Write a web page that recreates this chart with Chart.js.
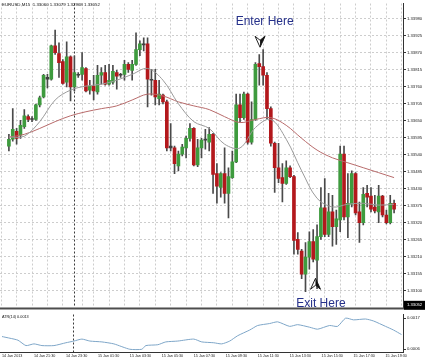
<!DOCTYPE html>
<html>
<head>
<meta charset="utf-8">
<script src="https://cdn.jsdelivr.net/npm/chart.js@4.4.0/dist/chart.umd.min.js"></script>
<style>
  html, body { margin: 0; padding: 0; background: #fff; }
  #wrap { position: relative; width: 425px; height: 361px; overflow: hidden; }
  #main { position: absolute; left: 0; top: 0; }
  #atr  { position: absolute; left: 0; top: 311px; }
</style>
</head>
<body>
<div id="wrap">
  <canvas id="main" width="425" height="311"></canvas>
  <canvas id="atr" width="425" height="50"></canvas>
</div>
<script>
/* ---------- data (EURUSD M15, 14 Jan 19:30 -> 15 Jan 20:45) ---------- */
const opens = [
  1.33567, 1.33589, 1.33615, 1.33602, 1.33630, 1.33662, 1.33653, 1.33653, 1.33700, 1.33726,
  1.33789, 1.33783, 1.33891, 1.33866, 1.33840, 1.33774, 1.33856, 1.33758, 1.33799, 1.33799,
  1.33818, 1.33748, 1.33761, 1.33742, 1.33796, 1.33805, 1.33767, 1.33774, 1.33805, 1.33799,
  1.33799, 1.33831, 1.33812, 1.33831, 1.33879, 1.33898, 1.33898, 1.33783, 1.33780, 1.33720,
  1.33732, 1.33710, 1.33567, 1.33561, 1.33503, 1.33541, 1.33561, 1.33592, 1.33624, 1.33506,
  1.33561, 1.33586, 1.33580, 1.33605, 1.33478, 1.33433, 1.33478, 1.33414, 1.33465, 1.33516,
  1.33700, 1.33659, 1.33735, 1.33580, 1.33653, 1.33834, 1.33824, 1.33796, 1.33688, 1.33576,
  1.33497, 1.33465, 1.33446, 1.33497, 1.33468, 1.33265, 1.33227, 1.33153, 1.33208, 1.33258,
  1.33198, 1.33274, 1.33367, 1.33281, 1.33354, 1.33306, 1.33328, 1.33541, 1.33338, 1.33379,
  1.33478, 1.33354, 1.33319, 1.33414, 1.33405, 1.33370, 1.33354, 1.33405, 1.33344, 1.33319,
  1.33382
];
const highs = [
  1.33605, 1.33688, 1.33624, 1.33650, 1.33685, 1.33668, 1.33662, 1.33703, 1.33729, 1.33799,
  1.33799, 1.33894, 1.33942, 1.33901, 1.33847, 1.33904, 1.33859, 1.33859, 1.33805, 1.33869,
  1.33821, 1.33780, 1.33796, 1.33828, 1.33821, 1.33828, 1.33831, 1.33828, 1.33812, 1.33802,
  1.33844, 1.33837, 1.33844, 1.33933, 1.33907, 1.33917, 1.33917, 1.33815, 1.33815, 1.33780,
  1.33735, 1.33716, 1.33640, 1.33567, 1.33551, 1.33573, 1.33599, 1.33640, 1.33627, 1.33589,
  1.33592, 1.33621, 1.33627, 1.33608, 1.33510, 1.33481, 1.33561, 1.33497, 1.33551, 1.33735,
  1.33735, 1.33742, 1.33738, 1.33710, 1.33837, 1.33863, 1.33879, 1.33805, 1.33694, 1.33580,
  1.33576, 1.33510, 1.33519, 1.33503, 1.33472, 1.33287, 1.33233, 1.33255, 1.33290, 1.33297,
  1.33312, 1.33433, 1.33462, 1.33414, 1.33408, 1.33360, 1.33567, 1.33567, 1.33478, 1.33487,
  1.33481, 1.33386, 1.33433, 1.33440, 1.33433, 1.33408, 1.33440, 1.33408, 1.33360, 1.33408,
  1.33392
];
const lows = [
  1.33551, 1.33583, 1.33573, 1.33592, 1.33624, 1.33646, 1.33646, 1.33650, 1.33694, 1.33723,
  1.33755, 1.33780, 1.33863, 1.33789, 1.33767, 1.33758, 1.33713, 1.33745, 1.33789, 1.33780,
  1.33742, 1.33735, 1.33716, 1.33735, 1.33767, 1.33764, 1.33764, 1.33767, 1.33751, 1.33789,
  1.33780, 1.33805, 1.33780, 1.33828, 1.33859, 1.33875, 1.33694, 1.33732, 1.33700, 1.33700,
  1.33703, 1.33551, 1.33551, 1.33478, 1.33487, 1.33535, 1.33529, 1.33583, 1.33503, 1.33500,
  1.33529, 1.33557, 1.33551, 1.33414, 1.33382, 1.33402, 1.33382, 1.33335, 1.33462, 1.33513,
  1.33646, 1.33653, 1.33573, 1.33573, 1.33650, 1.33764, 1.33764, 1.33656, 1.33567, 1.33417,
  1.33449, 1.33386, 1.33443, 1.33465, 1.33217, 1.33217, 1.33138, 1.33096, 1.33169, 1.33192,
  1.33106, 1.33265, 1.33274, 1.33274, 1.33243, 1.33249, 1.33290, 1.33328, 1.33271, 1.33370,
  1.33344, 1.33255, 1.33312, 1.33370, 1.33354, 1.33351, 1.33319, 1.33338, 1.33315, 1.33315,
  1.33351
];
const closes = [
  1.33589, 1.33621, 1.33592, 1.33634, 1.33665, 1.33653, 1.33653, 1.33700, 1.33723, 1.33796,
  1.33783, 1.33891, 1.33869, 1.33837, 1.33770, 1.33856, 1.33758, 1.33805, 1.33796, 1.33821,
  1.33745, 1.33761, 1.33745, 1.33796, 1.33805, 1.33767, 1.33780, 1.33809, 1.33793, 1.33796,
  1.33831, 1.33815, 1.33831, 1.33879, 1.33898, 1.33894, 1.33783, 1.33780, 1.33726, 1.33735,
  1.33710, 1.33561, 1.33561, 1.33510, 1.33541, 1.33564, 1.33592, 1.33624, 1.33506, 1.33561,
  1.33586, 1.33589, 1.33605, 1.33475, 1.33437, 1.33478, 1.33414, 1.33468, 1.33516, 1.33700,
  1.33659, 1.33735, 1.33580, 1.33653, 1.33831, 1.33824, 1.33796, 1.33688, 1.33576, 1.33497,
  1.33462, 1.33446, 1.33497, 1.33468, 1.33262, 1.33233, 1.33153, 1.33208, 1.33258, 1.33201,
  1.33274, 1.33367, 1.33281, 1.33354, 1.33306, 1.33332, 1.33541, 1.33338, 1.33382, 1.33478,
  1.33351, 1.33319, 1.33411, 1.33402, 1.33363, 1.33357, 1.33405, 1.33344, 1.33319, 1.33382,
  1.33363
];

// moving averages, read at selected bars
const maBars   = [0, 4, 8, 12, 16, 20, 24, 28, 32, 36, 40, 44, 48, 52, 56, 60, 64, 68, 72, 76, 80, 84, 88, 92, 96, 100];
const maSlow   = [1.33596, 1.33605, 1.33624, 1.33646, 1.33665, 1.33678, 1.33688, 1.33697, 1.33716, 1.33735,
                  1.33729, 1.33710, 1.33697, 1.33685, 1.33662, 1.33643, 1.33653, 1.33659, 1.33634, 1.33592,
                  1.33554, 1.33529, 1.33513, 1.33497, 1.33481, 1.33465];
const maFast   = [1.33596, 1.33599, 1.33646, 1.33716, 1.33748, 1.33761, 1.33767, 1.33780, 1.33799, 1.33818,
                  1.33780, 1.33704, 1.33646, 1.33624, 1.33573, 1.33561, 1.33627, 1.33653, 1.33589, 1.33487,
                  1.33398, 1.33370, 1.33379, 1.33382, 1.33376, 1.33379];

// ATR(14)
const atrBars  = [0, 2, 4, 6, 8, 10, 13, 16, 18, 20, 22, 25, 28, 32, 35, 36, 39, 41, 44, 48, 50, 53, 55, 57, 59,
                  62, 64, 67, 69, 72, 74, 77, 79, 82, 84, 86, 88, 91, 93, 96, 98, 100];
const atrVals  = [0.00105, 0.00099, 0.00092, 0.00073, 0.00079, 0.00073, 0.00073, 0.00083, 0.00089, 0.00096, 0.00089,
                  0.00086, 0.00079, 0.00060, 0.00060, 0.00073, 0.00076, 0.00086, 0.00089, 0.00096, 0.00086, 0.00083,
                  0.00079, 0.00089, 0.00108, 0.00128, 0.00144, 0.00151, 0.00157, 0.00141, 0.00147, 0.00138, 0.00131,
                  0.00144, 0.00141, 0.00170, 0.00164, 0.00167, 0.00160, 0.00141, 0.00128, 0.00112];

// axes
const priceTicks = [1.33100, 1.33155, 1.33210, 1.33265, 1.33320, 1.33375, 1.33430, 1.33485, 1.33540,
                    1.33595, 1.33650, 1.33705, 1.33760, 1.33815, 1.33870, 1.33925, 1.33980];
const atrTicks   = [0.0006, 0.0017];
const timeLabels = ['14 Jan 2013', '14 Jan 21:30', '14 Jan 23:30', '15 Jan 01:30', '15 Jan 03:30',
                    '15 Jan 05:30', '15 Jan 07:30', '15 Jan 09:30', '15 Jan 11:30', '15 Jan 13:30',
                    '15 Jan 15:30', '15 Jan 17:30', '15 Jan 19:30'];
const dayBreakBar = 18;   // 15 Jan 00:00

const header  = 'EURUSD,M15  1.33060 1.33079 1.32968 1.33052';
const bidNow  = 1.33052;
const atrNow  = 'ATR(14) 0.0013';
const notes   = [
  { text: 'Enter Here', bar: 66.4, price: 1.33968, arrowBar: 65.2, arrowPrice: 1.33906, dir: 'down' },
  { text: 'Exit Here',  bar: 81.0, price: 1.33058, arrowBar: 79.6, arrowPrice: 1.33120, dir: 'up' },
];

/* ---------- look ---------- */
const BULL = '#3e9b3e';
const BEAR = '#b3181c';
const DOJI = '#404040';
const WICK = '#4a4a4a';
const GRID = '#cdcdcd';
const AXIS = '#333';
const NOTE = '#25308a';
const SMALL_FONT = "'Liberation Sans', Arial, sans-serif";

const X_MIN = -0.375, X_MAX = 100.375;
const bars = opens.map((_, i) => i);

function candleColor(i) {
  const d = closes[i] - opens[i];
  if (Math.abs(d) <= 0.00006) return DOJI;
  return d > 0 ? BULL : BEAR;
}

function gridBars() {
  const t = [];
  for (let b = 0; b <= 100; b += 4) t.push(b);
  t.push(dayBreakBar);
  return t.sort((a, b) => a - b);
}

/* ---------- overlay for main panel ---------- */
const mainOverlay = {
  id: 'mainOverlay',
  afterDraw(chart) {
    const { ctx, scales: { x, y }, chartArea } = chart;
    ctx.save();

    // symbol header
    ctx.font = `4.4px ${SMALL_FONT}`;
    ctx.fillStyle = '#111';
    ctx.textAlign = 'left';
    ctx.textBaseline = 'top';
    ctx.fillText(header, 2, 3);

    // enter / exit labels and arrows
    notes.forEach(n => {
      ctx.font = `12px ${SMALL_FONT}`;
      ctx.fillStyle = NOTE;
      ctx.textAlign = 'center';
      ctx.textBaseline = 'middle';
      ctx.fillText(n.text, x.getPixelForValue(n.bar), y.getPixelForValue(n.price));

      const ax = x.getPixelForValue(n.arrowBar);
      const ay = y.getPixelForValue(n.arrowPrice);
      const s = n.dir === 'down' ? 1 : -1;
      ctx.beginPath();
      ctx.moveTo(ax, ay + 6 * s);
      ctx.lineTo(ax - 5, ay - 5 * s);
      ctx.lineTo(ax, ay - 1 * s);
      ctx.lineTo(ax + 5, ay - 5 * s);
      ctx.closePath();
      ctx.fillStyle = '#fff';
      ctx.fill();
      ctx.strokeStyle = '#222';
      ctx.lineWidth = 1;
      ctx.stroke();
      ctx.beginPath();
      ctx.moveTo(ax, ay + 6 * s);
      ctx.lineTo(ax, ay - 1 * s);
      ctx.lineTo(ax + 5, ay - 5 * s);
      ctx.closePath();
      ctx.fillStyle = '#111';
      ctx.fill();
    });

    // panel separator
    ctx.fillStyle = '#4d4d4d';
    ctx.fillRect(0, chartArea.bottom, chartArea.right + 1, 2);

    // bid box
    const by = y.getPixelForValue(bidNow);
    ctx.fillStyle = '#000';
    ctx.fillRect(chartArea.right + 1, by - 4.5, 425 - chartArea.right, 9);
    ctx.font = `4.2px ${SMALL_FONT}`;
    ctx.fillStyle = '#fff';
    ctx.textAlign = 'left';
    ctx.textBaseline = 'middle';
    ctx.fillText(bidNow.toFixed(5), chartArea.right + 4, by);
    ctx.restore();
  }
};

const atrOverlay = {
  id: 'atrOverlay',
  afterDraw(chart) {
    const { ctx } = chart;
    ctx.save();
    ctx.font = `3.8px ${SMALL_FONT}`;
    ctx.fillStyle = '#111';
    ctx.textBaseline = 'top';
    ctx.fillText(atrNow, 2, 4);
    ctx.restore();
  }
};

Chart.defaults.animation = false;
Chart.defaults.plugins.legend.display = false;
Chart.defaults.plugins.tooltip.enabled = false;

/* ---------- main price panel ---------- */
new Chart(document.getElementById('main'), {
  type: 'bar',
  data: {
    datasets: [
      {
        type: 'line',
        data: maBars.map((b, k) => ({ x: b, y: maFast[k] })),
        borderColor: '#9b9b9b',
        borderWidth: 1,
        pointRadius: 0,
        tension: 0.35,
        order: 0,
      },
      {
        type: 'line',
        data: maBars.map((b, k) => ({ x: b, y: maSlow[k] })),
        borderColor: '#b86b6b',
        borderWidth: 1,
        pointRadius: 0,
        tension: 0.35,
        order: 0,
      },
      {
        // candle bodies
        data: bars.map(i => ({ x: i, y: [opens[i], closes[i]] })),
        backgroundColor: ctx => candleColor(ctx.dataIndex),
        barThickness: 3,
        minBarLength: 1,
        grouped: false,
        order: 1,
      },
      {
        // wicks
        data: bars.map(i => ({ x: i, y: [lows[i], highs[i]] })),
        backgroundColor: WICK,
        barThickness: 1,
        grouped: false,
        order: 2,
      },
    ],
  },
  options: {
    responsive: false,
    devicePixelRatio: 1,
    layout: { padding: 0 },
    scales: {
      x: {
        type: 'linear',
        min: X_MIN,
        max: X_MAX,
        afterBuildTicks: ax => { ax.ticks = gridBars().map(v => ({ value: v })); },
        afterFit: ax => { ax.height = 2; },
        ticks: { display: false },
        grid: {
          color: c => (c.tick && c.tick.value === dayBreakBar ? '#3a3a3a' : GRID),
          drawTicks: false,
        },
        border: { display: false, dash: [2, 2] },
      },
      y: {
        position: 'right',
        min: 1.33045,
        max: 1.34028,
        afterBuildTicks: ax => { ax.ticks = priceTicks.map(v => ({ value: v })); },
        afterFit: ax => { ax.width = 22; },
        ticks: {
          callback: v => Number(v).toFixed(5),
          font: { size: 4.2, family: SMALL_FONT },
          color: '#222',
          padding: 1,
        },
        grid: { color: GRID, tickColor: AXIS, tickLength: 3 },
        border: { display: true, color: AXIS, width: 1, dash: [2, 2] },
      },
    },
  },
  plugins: [mainOverlay],
});

/* ---------- ATR panel ---------- */
new Chart(document.getElementById('atr'), {
  type: 'line',
  data: {
    datasets: [{
      data: atrBars.map((b, k) => ({ x: b, y: atrVals[k] })),
      borderColor: '#7ea6c8',
      borderWidth: 1,
      pointRadius: 0,
      tension: 0.2,
    }],
  },
  options: {
    responsive: false,
    devicePixelRatio: 1,
    layout: { padding: 0 },
    scales: {
      x: {
        type: 'linear',
        min: X_MIN,
        max: X_MAX,
        afterBuildTicks: ax => { ax.ticks = gridBars().map(v => ({ value: v })); },
        afterFit: ax => { ax.height = 9; },
        ticks: {
          autoSkip: false,
          maxRotation: 0,
          minRotation: 0,
          align: 'start',
          padding: 2,
          font: { size: 3.7, family: SMALL_FONT },
          color: '#222',
          callback: v => (v % 8 === 0 ? timeLabels[v / 8] : ''),
        },
        grid: {
          color: c => (c.tick && c.tick.value === dayBreakBar ? '#3a3a3a' : 'rgba(0,0,0,0)'),
          drawTicks: false,
        },
        border: { display: true, color: AXIS, width: 1, dash: [2, 2] },
      },
      y: {
        position: 'right',
        min: 0.000503,
        max: 0.001829,
        afterBuildTicks: ax => { ax.ticks = atrTicks.map(v => ({ value: v })); },
        afterFit: ax => { ax.width = 22; },
        ticks: {
          callback: v => Number(v).toFixed(4),
          font: { size: 4.2, family: SMALL_FONT },
          color: '#222',
          padding: 1,
        },
        grid: { color: 'rgba(0,0,0,0)', tickColor: AXIS, tickLength: 3 },
        border: { display: true, color: AXIS, width: 1 },
      },
    },
  },
  plugins: [atrOverlay],
});
</script>
</body>
</html>
